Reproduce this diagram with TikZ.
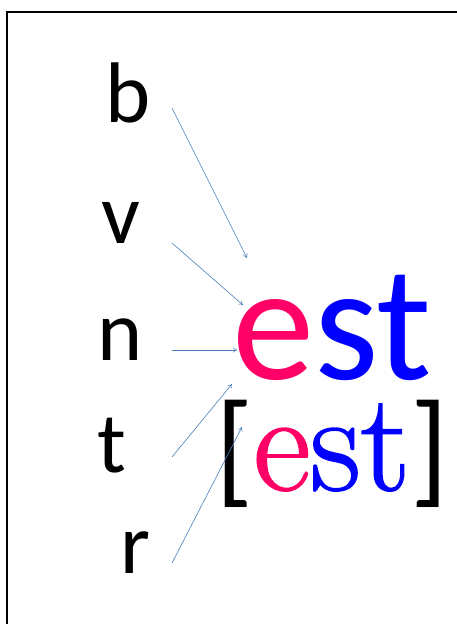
\documentclass[tikz,border=0pt]{standalone}
\usepackage{fontspec}
\setsansfont{Carlito}
\newfontfamily\estserif{Latin Modern Roman}[FakeBold=1.2]
\usetikzlibrary{arrows.meta}
\definecolor{estpink}{HTML}{FF0066}
\definecolor{estblue}{HTML}{0000FF}
\definecolor{arrowblue}{HTML}{4A7EBB}
\begin{document}
\begin{tikzpicture}[x=1pt,y=-1pt,
  letter/.style={inner sep=0pt,anchor=base west,font=\sffamily\fontsize{86}{86}\selectfont},
  link/.style={draw=arrowblue,line width=0.6pt,-{To[length=4pt,width=5pt]}}]
\useasboundingbox (0,0) rectangle (457,624);
\draw[line width=2pt] (7,624) -- (7,12) -- (457,12);
\node[letter] (b) at (105,122) {b};
\node[letter] (v) at (101,243) {v};
\node[letter] (n) at (97,360) {n};
\node[letter] (t) at (97,472) {t};
\node[letter] (r) at (120,573) {r};
\node[inner sep=0pt,anchor=base west,font=\sffamily\fontsize{165}{165}\selectfont] (est) at (232,379)
  {\color{estpink}e\color{estblue}st};
\node[inner sep=0pt,anchor=base west] (ipa) at (215,490)
  {{\sffamily\fontsize{125}{125}\selectfont[}{\estserif\fontsize{140}{140}\selectfont\color{estpink}e\color{estblue}st}{\sffamily\fontsize{125}{125}\selectfont]}};
\coordinate (s1) at (172,108); \coordinate (e1) at (247,258);
\coordinate (s2) at (172,243); \coordinate (e2) at (243,305);
\coordinate (s3) at (172,350); \coordinate (e3) at (237,350);
\coordinate (s4) at (172,457); \coordinate (e4) at (232,384);
\coordinate (s5) at (172,563); \coordinate (e5) at (242,427);
\draw[link] (s1) -- (e1);
\draw[link] (s2) -- (e2);
\draw[link] (s3) -- (e3);
\draw[link] (s4) -- (e4);
\draw[link] (s5) -- (e5);
\end{tikzpicture}
\end{document}
